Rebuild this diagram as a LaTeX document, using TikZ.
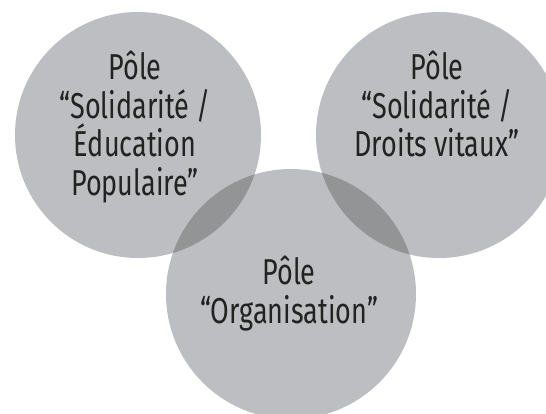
\documentclass[tikz,border=0pt]{standalone}
\usepackage{fontspec}
\setmainfont{Fira Sans}[FakeStretch=0.75]
\definecolor{disc}{HTML}{BDBEC1}
\definecolor{overlap}{HTML}{939496}
\definecolor{ink}{HTML}{222222}
\begin{document}
\begin{tikzpicture}[x=1pt,y=-1pt,
  pole/.style={circle,fill=disc,inner sep=0pt,minimum size=#1},
  label/.style={anchor=north,align=center,inner sep=0pt,text=ink,
    font=\fontsize{36}{38.5}\selectfont}]
\useasboundingbox (0,0) rectangle (546,413);
\clip (0,0) rectangle (546,413);
\node[pole=246pt] (L) at (138,135) {};
\node[pole=246pt] (R) at (439,135) {};
\node[pole=250pt] (B) at (291,294) {};
\begin{scope}
  \clip (138,135) circle (123);
  \fill[overlap] (291,294) circle (125);
\end{scope}
\begin{scope}
  \clip (439,135) circle (123);
  \fill[overlap] (291,294) circle (125);
\end{scope}
\node[label] (tl) at (135,51) {Pôle\\“Solidarité /\\Éducation\\Populaire”};
\node[label] (tr) at (437,51) {Pôle\\“Solidarité /\\Droits vitaux”};
\node[label] (tb) at (289,256) {Pôle\\“Organisation”};
\end{tikzpicture}
\end{document}
